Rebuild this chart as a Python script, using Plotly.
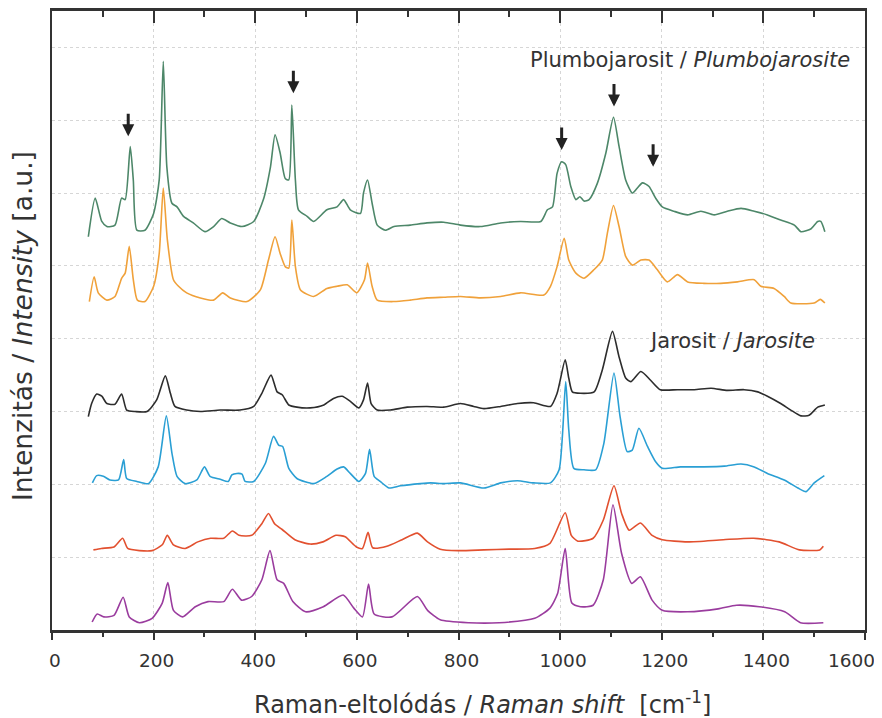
import plotly.graph_objects as go

# ---- data (Raman shift in cm^-1, intensity in arbitrary units, offset stacked) ----
plumbo1_x = [71.5, 85, 98, 108, 124, 137, 144, 154, 160, 167, 183, 200, 211, 219, 226, 236, 246, 259, 278, 301,
             318, 334, 351, 374, 397, 416, 430, 439, 449, 459, 466, 472, 479, 485, 502, 515, 541, 561, 574, 587,
             607, 613, 621, 630, 640, 656, 673, 705, 738, 771, 804, 843, 883, 922, 962, 975, 985, 994, 1003, 1011,
             1021, 1031, 1039, 1047, 1057, 1073, 1090, 1105, 1116, 1129, 1142, 1152, 1162, 1175, 1188, 1201, 1224,
             1251, 1277, 1303, 1329, 1356, 1382, 1408, 1434, 1461, 1474, 1494, 1507, 1513, 1521]
plumbo1_y = [5.40, 5.93, 5.61, 5.54, 5.56, 5.93, 5.91, 6.64, 6.18, 5.49, 5.49, 5.72, 6.18, 7.81, 6.36, 5.86, 5.81,
             5.68, 5.59, 5.47, 5.54, 5.65, 5.59, 5.54, 5.61, 5.91, 6.36, 6.80, 6.55, 6.20, 6.18, 7.21, 6.18, 5.77,
             5.68, 5.61, 5.77, 5.81, 5.91, 5.77, 5.72, 6.00, 6.18, 5.86, 5.56, 5.49, 5.54, 5.56, 5.59, 5.60, 5.56,
             5.54, 5.59, 5.61, 5.61, 5.77, 5.81, 6.27, 6.43, 6.39, 6.09, 5.91, 5.95, 5.89, 5.91, 6.13, 6.55, 7.04,
             6.64, 6.18, 6.00, 6.07, 6.14, 6.09, 5.93, 5.81, 5.75, 5.70, 5.75, 5.70, 5.75, 5.79, 5.75, 5.70, 5.63,
             5.56, 5.47, 5.51, 5.61, 5.61, 5.47]

plumbo2_x = [73.5, 83, 91, 108, 124, 137, 144, 152, 160, 168, 183, 200, 211, 219, 227, 239, 249, 265, 292, 318,
             336, 351, 384, 410, 426, 439, 449, 459, 466, 472, 479, 489, 515, 541, 561, 581, 600, 615, 621, 630,
             640, 673, 705, 738, 771, 804, 843, 883, 922, 968, 981, 994, 1008, 1017, 1031, 1047, 1067, 1083, 1093,
             1105, 1116, 1129, 1142, 1159, 1175, 1191, 1211, 1231, 1251, 1283, 1316, 1349, 1382, 1395, 1421, 1441,
             1454, 1500, 1512, 1521]
plumbo2_y = [4.51, 4.85, 4.63, 4.53, 4.58, 4.83, 4.90, 5.27, 4.81, 4.53, 4.51, 4.72, 5.17, 6.07, 5.36, 4.81, 4.72,
             4.63, 4.56, 4.53, 4.63, 4.56, 4.51, 4.67, 5.08, 5.40, 5.17, 4.99, 4.97, 5.63, 4.99, 4.67, 4.58, 4.69,
             4.72, 4.74, 4.63, 4.81, 5.04, 4.72, 4.53, 4.51, 4.53, 4.56, 4.57, 4.58, 4.56, 4.58, 4.63, 4.60, 4.72,
             4.99, 5.38, 5.08, 4.90, 4.83, 4.95, 5.08, 5.45, 5.83, 5.54, 5.13, 5.01, 5.08, 5.08, 4.95, 4.78, 4.88,
             4.78, 4.76, 4.76, 4.78, 4.81, 4.72, 4.69, 4.58, 4.49, 4.49, 4.54, 4.49]

jaro1_x = [71.5, 78, 88, 98, 108, 124, 137, 147, 164, 187, 206, 223, 233, 242, 265, 292, 331, 370, 397, 413, 431,
           443, 453, 466, 482, 508, 535, 554, 571, 587, 604, 613, 621, 628, 640, 666, 699, 738, 771, 804, 830, 850,
           883, 916, 948, 981, 994, 1010, 1017, 1024, 1040, 1067, 1083, 1103, 1116, 1129, 1139, 1159, 1178, 1197,
           1231, 1264, 1297, 1329, 1362, 1389, 1408, 1434, 1454, 1474, 1490, 1507, 1521]
jaro1_y = [2.93, 3.11, 3.24, 3.21, 3.11, 3.10, 3.24, 3.02, 3.00, 3.00, 3.16, 3.49, 3.25, 3.07, 3.02, 3.00, 3.02,
           3.02, 3.07, 3.25, 3.50, 3.27, 3.23, 3.09, 3.06, 3.05, 3.09, 3.18, 3.21, 3.14, 3.05, 3.16, 3.39, 3.11,
           3.02, 3.02, 3.06, 3.07, 3.06, 3.11, 3.07, 3.04, 3.07, 3.11, 3.12, 3.07, 3.25, 3.71, 3.46, 3.27, 3.25,
           3.27, 3.57, 4.10, 3.75, 3.46, 3.41, 3.55, 3.43, 3.30, 3.30, 3.30, 3.32, 3.29, 3.30, 3.27, 3.21, 3.11,
           3.02, 2.94, 2.95, 3.06, 3.09]

jaro2_x = [79.5, 88, 101, 114, 131, 141, 147, 167, 190, 209, 225, 236, 246, 262, 285, 300, 311, 331, 347, 354, 364,
           374, 380, 397, 420, 436, 446, 454, 466, 482, 515, 541, 561, 574, 587, 604, 617, 625, 634, 646, 663, 686,
           725, 745, 771, 804, 850, 883, 916, 948, 981, 998, 1011, 1017, 1027, 1047, 1070, 1086, 1106, 1118, 1132,
           1142, 1155, 1172, 1188, 1201, 1237, 1283, 1323, 1356, 1382, 1408, 1441, 1468, 1484, 1500, 1520]
jaro2_y = [2.02, 2.12, 2.11, 2.06, 2.06, 2.34, 2.08, 2.04, 2.01, 2.24, 2.94, 2.43, 2.11, 2.01, 2.06, 2.24, 2.11,
           2.07, 2.04, 2.13, 2.15, 2.14, 2.04, 2.04, 2.29, 2.66, 2.54, 2.52, 2.22, 2.08, 2.01, 2.11, 2.21, 2.24,
           2.15, 2.04, 2.15, 2.48, 2.11, 2.04, 1.95, 1.98, 2.01, 2.02, 2.01, 2.02, 1.95, 2.02, 2.05, 2.02, 2.02,
           2.20, 3.41, 2.75, 2.22, 2.20, 2.20, 2.56, 3.53, 2.93, 2.45, 2.47, 2.77, 2.52, 2.31, 2.22, 2.24, 2.24,
           2.25, 2.28, 2.24, 2.15, 2.06, 1.95, 1.90, 2.02, 2.12]

sample3_x = [81.5, 97, 122, 139, 149, 172, 197, 217, 227, 239, 262, 287, 312, 338, 355, 368, 393, 413, 426, 438,
             453, 478, 508, 533, 559, 577, 599, 611, 622, 631, 659, 689, 719, 739, 764, 799, 850, 900, 950, 980,
             1010, 1022, 1035, 1065, 1085, 1106, 1121, 1136, 1158, 1181, 1201, 1251, 1321, 1381, 1431, 1471, 1511,
             1518]
sample3_y = [1.10, 1.12, 1.14, 1.26, 1.12, 1.09, 1.09, 1.17, 1.30, 1.17, 1.12, 1.21, 1.26, 1.26, 1.36, 1.30, 1.30,
             1.46, 1.60, 1.46, 1.38, 1.24, 1.18, 1.21, 1.30, 1.28, 1.14, 1.12, 1.34, 1.13, 1.15, 1.24, 1.33, 1.21,
             1.11, 1.09, 1.10, 1.11, 1.12, 1.19, 1.61, 1.30, 1.22, 1.26, 1.51, 1.98, 1.60, 1.37, 1.47, 1.30, 1.24,
             1.21, 1.24, 1.26, 1.21, 1.10, 1.10, 1.15]

sample4_x = [79, 89, 102, 122, 140, 152, 172, 197, 217, 228, 239, 257, 282, 307, 338, 355, 373, 393, 413, 429, 443,
             456, 474, 499, 534, 573, 594, 611, 623, 634, 669, 719, 739, 764, 820, 880, 950, 980, 995, 1010, 1023,
             1040, 1065, 1085, 1104, 1121, 1141, 1158, 1181, 1201, 1251, 1311, 1347, 1392, 1442, 1473, 1518]
sample4_y = [0.11, 0.22, 0.18, 0.20, 0.45, 0.18, 0.10, 0.16, 0.37, 0.65, 0.27, 0.18, 0.32, 0.39, 0.39, 0.56, 0.41,
             0.46, 0.69, 1.09, 0.69, 0.64, 0.39, 0.25, 0.32, 0.48, 0.30, 0.18, 0.63, 0.22, 0.18, 0.46, 0.27, 0.14,
             0.10, 0.10, 0.16, 0.30, 0.50, 1.12, 0.37, 0.32, 0.34, 0.69, 1.72, 1.05, 0.64, 0.73, 0.41, 0.27, 0.25,
             0.29, 0.34, 0.32, 0.25, 0.10, 0.10]

series_colors = ["#4d8769", "#f0a13a", "#2d2d2d", "#2a9fd4", "#e2502f", "#9a3c9e"]

# marked plumbojarosite bands (arrow tips)
arrow_x = [150, 475, 1003, 1106, 1183]
arrow_y = [6.78, 7.37, 6.59, 7.19, 6.36]

x_ticks = [0, 200, 400, 600, 800, 1000, 1200, 1400, 1600]
x_tick_labels = ["0", "200", "400", "600", "800", "1000", "1200", "1400", ""]
last_tick_label = "1600"   # drawn separately so it stays inside the page

FONT = "DejaVu Sans"
TXT = "#333333"

fig = go.Figure()
all_series = [(plumbo1_x, plumbo1_y), (plumbo2_x, plumbo2_y), (jaro1_x, jaro1_y),
              (jaro2_x, jaro2_y), (sample3_x, sample3_y), (sample4_x, sample4_y)]
for (sx, sy), col in zip(all_series, series_colors):
    fig.add_trace(go.Scatter(x=sx, y=sy, mode="lines",
                             line=dict(color=col, width=1.6, shape="spline", smoothing=0.6),
                             showlegend=False, hoverinfo="skip"))

# invisible trace for top (inward ticks) axis
fig.add_trace(go.Scatter(x=[x_ticks[0], x_ticks[-1]], y=[None, None], xaxis="x2", mode="lines",
                         showlegend=False, hoverinfo="skip"))

for ax_, ay_ in zip(arrow_x, arrow_y):
    fig.add_annotation(x=ax_, y=ay_, ax=0, ay=-31, showarrow=True, arrowhead=2, arrowsize=0.8,
                       arrowwidth=3, arrowcolor="#222222", text=" ")

fig.add_annotation(x=1255, y=7.83, text="Plumbojarosit / <i>Plumbojarosite</i>", showarrow=False,
                   font=dict(family=FONT, size=21, color=TXT))
fig.add_annotation(x=1338, y=3.97, text="Jarosit / <i>Jarosite</i>", showarrow=False,
                   font=dict(family=FONT, size=21, color=TXT))

# last x tick label, right-aligned at the axis end
fig.add_annotation(x=x_ticks[-1], xref="x", y=-0.0485, yref="paper", xanchor="right", yanchor="middle",
                   xshift=12, text=last_tick_label, showarrow=False,
                   font=dict(family=FONT, size=18.5, color=TXT))

# axis titles
fig.add_annotation(xref="paper", yref="paper", x=0.53, y=-0.118, yanchor="middle",
                   text="Raman-eltolódás / <i>Raman shift</i>  [cm<sup>-1</sup>]", showarrow=False,
                   font=dict(family=FONT, size=24, color=TXT))
fig.add_annotation(xref="paper", yref="paper", x=-0.037, y=0.491, xanchor="center", yanchor="middle",
                   textangle=-90,
                   text="Intenzitás / <i>Intensity</i> [a.u.]", showarrow=False,
                   font=dict(family=FONT, size=26.5, color=TXT))

# the page body adds an 8 px offset, so the figure is sized to fit the 882x718 window
fig.update_layout(
    width=874, height=710,
    margin=dict(l=44, r=17, t=3, b=88, autoexpand=False),
    paper_bgcolor="white", plot_bgcolor="white",
    font=dict(family=FONT, color=TXT),
    xaxis=dict(range=[0, 1600], tickvals=x_ticks, ticktext=x_tick_labels, ticks="outside", ticklen=7,
               tickwidth=2, tickcolor="#333333", showline=True, linewidth=2.5, linecolor="#333333",
               mirror=True, showgrid=True, gridcolor="#d6d6d6", griddash="dot", gridwidth=1,
               zeroline=False, ticklabelstandoff=5, ticklabelshift=3, ticklabeloverflow="allow",
               tickfont=dict(family=FONT, size=18.5, color=TXT),
               minor=dict(dtick=100, ticks="outside", ticklen=4, tickwidth=1.5, tickcolor="#333333",
                          showgrid=False)),
    xaxis2=dict(range=[0, 1600], overlaying="x", side="top", anchor="y", tickvals=x_ticks,
                ticks="inside", ticklen=12, tickwidth=2, tickcolor="#333333", showticklabels=False,
                showgrid=False, showline=False, zeroline=False,
                minor=dict(dtick=100, ticks="inside", ticklen=6, tickwidth=1.5, tickcolor="#333333",
                           showgrid=False)),
    yaxis=dict(range=[0, 8.5], dtick=1, showticklabels=False, ticks="", showline=True, linewidth=2,
               linecolor="#333333", mirror=True, showgrid=True, gridcolor="#d6d6d6", griddash="dot",
               gridwidth=1, zeroline=False),
)

fig.write_html("out.html")
